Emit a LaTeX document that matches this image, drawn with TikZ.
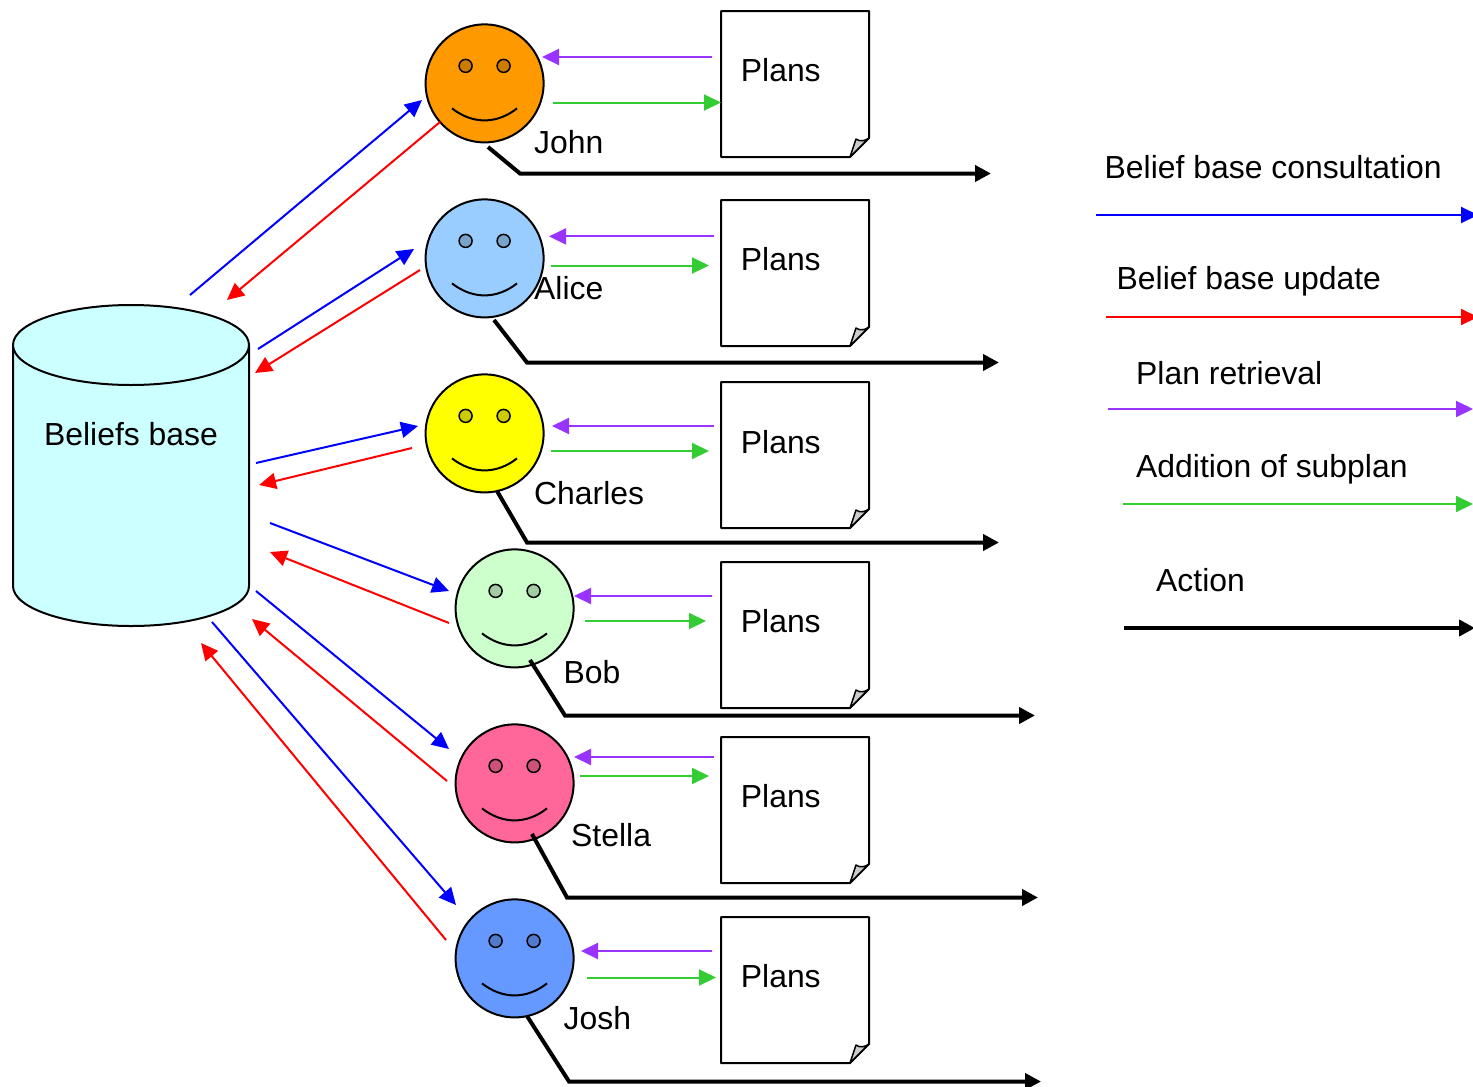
\documentclass[tikz,border=0pt]{standalone}
\usepackage{fontspec}
\setmainfont{Liberation Sans}
\usetikzlibrary{arrows.meta}
\definecolor{cblue}{HTML}{0000FF}
\definecolor{cred}{HTML}{FF0000}
\definecolor{cpurple}{HTML}{9933FF}
\definecolor{cgreen}{HTML}{33CC33}
\definecolor{fjohn}{HTML}{FF9900}
\definecolor{falice}{HTML}{99CCFF}
\definecolor{fcharles}{HTML}{FFFF00}
\definecolor{fbob}{HTML}{CCFFCC}
\definecolor{fstella}{HTML}{FF6699}
\definecolor{fjosh}{HTML}{6699FF}
\definecolor{fcyl}{HTML}{CCFFFF}
\definecolor{ffold}{HTML}{CCCCCC}
\tikzset{
  x=1pt,y=-1pt,
  lbl/.style={anchor=base west,inner sep=0pt,font=\fontsize{31.9}{36}\selectfont},
  face/.style={circle,draw=black,line width=2pt,minimum size=118pt,inner sep=0pt},
  planbox/.style={anchor=north west,minimum width=148pt,minimum height=146pt,inner sep=0pt},
  thinarrow/.style={line width=2pt,-{Triangle[length=17pt,width=16pt]}},
  consult/.style={thinarrow,draw=cblue,fill=cblue},
  update/.style={thinarrow,draw=cred,fill=cred},
  retrieve/.style={thinarrow,draw=cpurple,fill=cpurple},
  subplan/.style={thinarrow,draw=cgreen,fill=cgreen},
  action/.style={line width=4pt,-{Triangle[length=16pt,width=16pt]},line join=miter},
}
\begin{document}
\begin{tikzpicture}
\useasboundingbox (0,0) rectangle (1473,1087);
% belief base
\draw[fill=fcyl,line width=2pt] (13,345) -- (13,586) arc[x radius=118,y radius=-40,start angle=180,end angle=360] -- (249,345);
\draw[fill=fcyl,line width=2pt] (131,345) ellipse[x radius=118,y radius=40];
\node[lbl,anchor=base] (base) at (131,445) {Beliefs base};
% agents
\foreach \nm/\cx/\cy/\col in {john/484.6/83.4/fjohn,alice/484.6/258.4/falice,charles/484.6/433.4/fcharles,bob/514.6/608.4/fbob,stella/514.6/783.4/fstella,josh/514.6/958.4/fjosh}{
  \node[face,fill=\col] (\nm) at (\cx,\cy) {};
  \draw[line width=1.5pt,fill=\col!80!black] (\cx-19,\cy-17.5) circle[radius=6.5];
  \draw[line width=1.5pt,fill=\col!80!black] (\cx+19,\cy-17.5) circle[radius=6.5];
  \draw[line width=2pt] (\cx-32.6,\cy+25) .. controls (\cx-12,\cy+41) and (\cx+12,\cy+41) .. (\cx+32.4,\cy+25);
}
\node[lbl] (njohn) at (534,153) {John};
\node[lbl] (nalice) at (534,299) {Alice};
\node[lbl] (ncharles) at (534,504) {Charles};
\node[lbl] (nbob) at (563.5,683) {Bob};
\node[lbl] (nstella) at (571,846) {Stella};
\node[lbl] (njosh) at (563.5,1029) {Josh};
% plan sheets
\foreach \nm/\ty/\by in {p1/11/81,p2/200/270,p3/382/453,p4/562/632,p5/737/807,p6/917/987}{
  \node[planbox] (\nm) at (721,\ty) {};
  \draw[line width=2pt,fill=white,line join=round] (721,\ty) -- (869,\ty) -- (869,\ty+127) -- (850,\ty+146) -- (721,\ty+146) -- cycle;
  \draw[line width=1.5pt,fill=ffold,line join=round] (850,\ty+146) -- (856,\ty+128) .. controls (860,\ty+131) and (865,\ty+130) .. (869,\ty+127) -- cycle;
  \node[lbl] at (740.7,\by) {Plans};
}
% free ends of the connectors
\foreach \n/\x/\y in {
  a1/190/295,a2/422/100,a3/258/349,a4/414/249,a5/256/463,a6/418/426,a7/270/523,a8/449/591,a9/256/591,a10/449/749,a11/212/622,a12/456/905,
  r1/440/122,r2/227/300,r3/420/270,r4/255/373,r5/412/448,r6/259/485,r7/449/623,r8/270/552,r9/447/781,r10/252/619,r11/446/940,r12/201/643,
  u1/712/57,u2/542/57,u3/714/236.4,u4/549/236.4,u5/714/426,u6/552/426,u7/712/596,u8/574/596,u9/714/757,u10/574/757,u11/712/951,u12/581/951,
  g1/553/102.5,g2/721/102.5,g3/551/265.5,g4/709/265.5,g5/551/451,g6/709/451,g7/585/621,g8/706/621,g9/580/776,g10/709/776,g11/587/977.5,g12/716/977.5,
  k1/488/147,k2/520/173.5,k3/991/173.5,k4/494/320,k5/527/362.5,k6/999/362.5,k7/497/491,k8/527/542.5,k9/999/542.5,k10/530/660,k11/565/715.5,k12/1035/715.5,k13/532/834,k14/567/897.5,k15/1038/897.5,k16/527/1016,k17/569/1081.5,k18/1041/1081.5,
  l1/1096/215,l2/1478/215,l3/1106/317,l4/1478/317,l5/1108/409,l6/1473/409,l7/1123/504,l8/1473/504,l9/1124/628,l10/1475/628}{
  \coordinate (\n) at (\x,\y);
}
\foreach \s/\e in {a1/a2,a3/a4,a5/a6,a7/a8,a9/a10,a11/a12} \draw[consult] (\s) -- (\e);
\foreach \s/\e in {r1/r2,r3/r4,r5/r6,r7/r8,r9/r10,r11/r12} \draw[update] (\s) -- (\e);
\foreach \s/\e in {u1/u2,u3/u4,u5/u6,u7/u8,u9/u10,u11/u12} \draw[retrieve] (\s) -- (\e);
\foreach \s/\e in {g1/g2,g3/g4,g5/g6,g7/g8,g9/g10,g11/g12} \draw[subplan] (\s) -- (\e);
\foreach \s/\m/\e in {k1/k2/k3,k4/k5/k6,k7/k8/k9,k10/k11/k12,k13/k14/k15,k16/k17/k18} \draw[action] (\s) -- (\m) -- (\e);
% legend
\node[lbl] (t1) at (1104.5,178) {Belief base consultation};
\node[lbl] (t2) at (1116.5,289) {Belief base update};
\node[lbl] (t3) at (1136,384) {Plan retrieval};
\node[lbl] (t4) at (1136,477) {Addition of subplan};
\node[lbl] (t5) at (1156,591) {Action};
\draw[consult] (l1) -- (l2);
\draw[update] (l3) -- (l4);
\draw[retrieve] (l5) -- (l6);
\draw[subplan] (l7) -- (l8);
\draw[action] (l9) -- (l10);
\end{tikzpicture}
\end{document}
